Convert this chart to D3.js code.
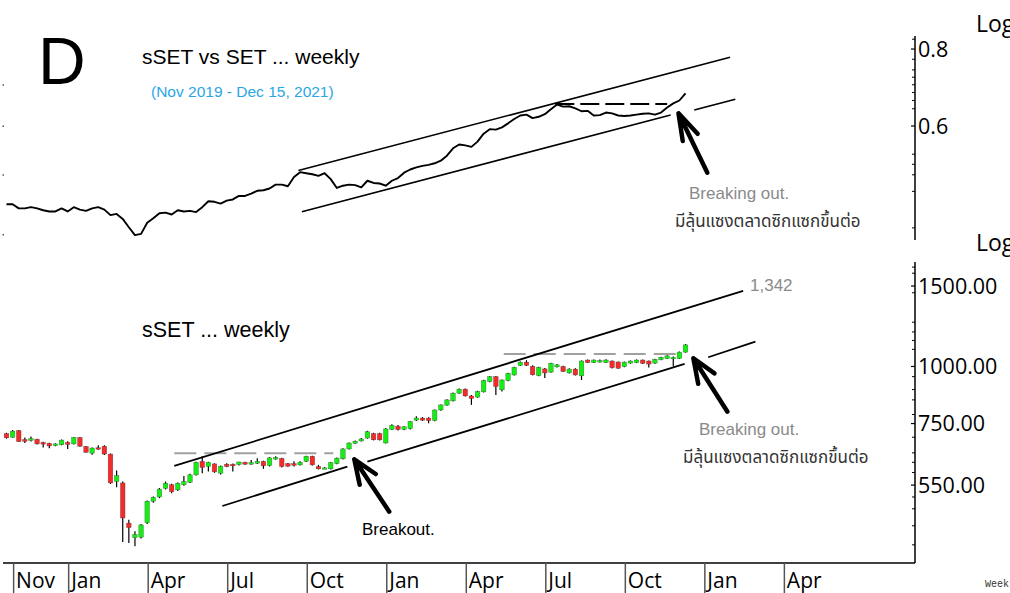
<!DOCTYPE html>
<html><head><meta charset="utf-8">
<script src="https://cdn.jsdelivr.net/npm/d3@7"></script>
<style>
html,body{margin:0;padding:0;background:#fff;overflow:hidden;}
svg{display:block;}
</style></head><body>
<svg id="chart" width="1010" height="593"></svg>
<script>
// ---------------- DATA ----------------
const firstWeek = "2019-10-28";   // first weekly bar
const lastWeek  = "2021-12-13";   // last weekly bar (Dec 15, 2021 week)

// sSET weekly OHLC
const sOpen  = [713,700,724,692,689,693,682,679,671,674,682,677,699,668,646,664,669,643,560,556,454,422,423,455,507,518,541,551,537,551,558,579,620,604,612,584,611,611,610,617,611,614,620,607,627,629,613,613,609,620,636,604,597,597,613,628,660,679,687,697,713,713,680,728,740,728,731,763,771,771,762,803,823,841,874,892,862,857,880,927,950,889,931,958,1005,1022,1001,955,988,972,998,1000,968,987,954,1033,1020,1026,1020,1028,1023,999,1017,1020,1033,1028,1017,1035,1041,1042,1041,1075];
const sHigh  = [716,726,726,699,703,695,684,681,679,692,686,701,701,670,665,672,672,645,592,560,462,436,452,509,519,542,560,554,557,576,582,619,636,619,614,607,614,613,619,619,624,630,622,633,636,631,615,620,620,638,638,609,602,618,632,662,682,689,697,723,716,716,733,747,745,740,760,778,775,774,805,826,848,877,895,895,866,885,935,953,953,937,969,999,1025,1032,1006,999,992,1019,1012,1004,991,991,1031,1036,1036,1036,1037,1031,1026,1025,1031,1036,1036,1031,1040,1050,1058,1052,1078,1120];
const sLow   = [695,698,683,680,685,675,665,662,669,672,660,675,667,647,641,657,640,553,544,413,411,404,420,452,503,515,538,528,534,548,556,577,584,589,585,580,602,589,607,609,609,612,597,604,625,601,603,604,607,618,607,595,596,595,611,626,658,677,685,695,689,689,678,726,724,725,728,760,760,751,759,800,820,838,871,860,824,854,877,924,866,881,928,955,1002,1002,956,952,944,969,995,972,965,955,934,1017,1017,1020,1017,990,988,996,1014,1017,1013,995,1014,1032,1038,1001,1038,1072];
const sClose = [698,722,685,686,695,677,676,670,677,690,675,699,669,649,663,659,643,556,577,466,444,429,450,507,517,539,555,532,555,560,579,617,601,617,588,605,604,606,618,611,616,620,606,631,632,604,605,608,617,636,609,597,600,616,630,660,680,686,694,720,691,691,730,743,728,738,758,771,763,761,803,824,845,874,892,862,851,882,932,950,904,934,966,996,1022,1006,959,996,968,1016,1008,975,987,958,1028,1020,1033,1030,1033,994,991,1022,1028,1033,1016,1012,1037,1047,1055,1047,1075,1115];

// sSET / SET relative ratio (weekly)
const ratio = [0.448,0.448,0.441,0.441,0.443,0.441,0.438,0.436,0.436,0.441,
0.436,0.443,0.439,0.437,0.441,0.443,0.439,0.430,0.432,0.424,
0.411,0.399,0.401,0.418,0.425,0.433,0.434,0.431,0.438,0.436,
0.437,0.435,0.443,0.453,0.452,0.449,0.454,0.456,0.462,0.462,
0.466,0.471,0.472,0.475,0.482,0.482,0.479,0.496,0.505,0.503,
0.501,0.498,0.503,0.492,0.476,0.480,0.482,0.481,0.477,0.489,
0.485,0.484,0.480,0.489,0.494,0.504,0.510,0.514,0.517,0.519,
0.522,0.527,0.537,0.552,0.560,0.558,0.555,0.566,0.583,0.593,
0.592,0.597,0.606,0.616,0.624,0.626,0.618,0.621,0.627,0.639,
0.650,0.645,0.646,0.641,0.634,0.635,0.624,0.625,0.631,0.629,
0.624,0.623,0.624,0.626,0.628,0.629,0.626,0.631,0.643,0.653,
0.660,0.678];

// x-axis (first weekly bar of each labelled month)
const monthDates  = ["2019-11-04","2020-01-06","2020-04-06","2020-07-06","2020-10-05","2021-01-04","2021-04-05","2021-07-05","2021-10-04","2022-01-03","2022-04-04"];
const monthLabels = ["Nov","Jan","Apr","Jul","Oct","Jan","Apr","Jul","Oct","Jan","Apr"];

// y-axis ticks
const topTickValues = [0.8, 0.6];
const topTickLabels = ["0.8", "0.6"];
const topMinorTicks = [0.83,0.77,0.74,0.72,0.70,0.68,0.66,0.64,0.54,0.52,0.50,0.47,0.41];
const topLeftTicks  = [0.7,0.6,0.5,0.4];
const botTickValues = [1500, 1000, 750, 550];
const botTickLabels = ["1500.00","1000.00","750.00","550.00"];
const botMinorTicks = [1650,1600,1450,1250,1190,1140,1090,950,890,845,785,700,647,617,586,518,488,448,407];

// trend lines / annotations (date, value)
const topUpper   = [["2020-09-26",0.508],["2022-02-02",0.7756]];
const topLower1  = [["2020-09-30",0.4356],["2021-11-26",0.6252]];
const topLower2  = [["2021-12-23",0.6369],["2022-02-08",0.6629]];
const topDash    = [["2021-07-17",0.6514],["2021-11-22",0.6514]];
const topArrow   = [["2021-12-05",0.6291],["2022-01-07",0.5039]];

const botUpper   = [["2020-05-07",605.7],["2022-02-17",1463]];
const botLower1  = [["2020-07-01",495.0],["2020-11-21",603.5]];
const botLower2  = [["2020-12-14",618.8],["2021-12-12",1012.6]];
const botLower3  = [["2022-01-08",1047.5],["2022-03-03",1133.1]];
const botDash1   = [["2020-05-07",645.6],["2020-11-05",645.6]];
const botDash2   = [["2021-05-19",1065],["2021-12-10",1065]];
const botArrow1  = [["2020-11-29",626.4],["2021-01-08",481.0]];
const botArrow2  = [["2021-12-22",1042.2],["2022-01-30",796.2]];

// ---------------- CHART ----------------
const parse = d3.timeParse("%Y-%m-%d");
const svg = d3.select("#chart");
const FONT = "'Liberation Sans', Arial, sans-serif";
const AXFONT = "'Open Sans', 'Noto Sans', sans-serif";
const THAI = "Tahoma, 'Noto Sans Thai', 'Noto Sans Thai UI', 'Loma', 'Garuda', 'Noto Sans', 'DejaVu Sans', sans-serif";

const x = d3.scaleTime().domain([parse(firstWeek), parse(lastWeek)]).range([6.5, 685.5]);
const yTop = d3.scaleLog().domain([0.8399, 0.39187]).range([36, 240]);
const yBot = d3.scaleLog().domain([1693, 371.4]).range([262, 563]);

const weeks = sOpen.map((_, i) => d3.timeDay.offset(parse(firstWeek), 7 * i));
const bars = weeks.map((d, i) => ({d, o: sOpen[i], h: sHigh[i], l: sLow[i], c: sClose[i]}));

// axes (right side)
const axisX = 915;
function rightAxis(yScale, y0, y1, majors, labels, minors, logLabelY) {
  const g = svg.append("g");
  g.append("line").attr("x1", axisX).attr("x2", axisX).attr("y1", y0).attr("y2", y1)
    .attr("stroke", "#000").attr("stroke-width", 1.5);
  g.selectAll("line.mi").data(minors).join("line").attr("class","mi")
    .attr("x1", axisX - 3).attr("x2", axisX).attr("y1", d => yScale(d)).attr("y2", d => yScale(d))
    .attr("stroke", "#000").attr("stroke-width", 1);
  g.selectAll("line.ma").data(majors).join("line").attr("class","ma")
    .attr("x1", axisX - 4).attr("x2", axisX).attr("y1", d => yScale(d)).attr("y2", d => yScale(d))
    .attr("stroke", "#000").attr("stroke-width", 1.2);
  g.selectAll("text.tl").data(majors).join("text").attr("class","tl")
    .attr("x", axisX + 3).attr("y", d => yScale(d)).attr("dy", "0.36em")
    .attr("font-family", AXFONT).attr("font-size", 21.5).attr("fill", "#000")
    .text((d, i) => labels[i]);
  g.append("text").attr("x", 976).attr("y", logLabelY)
    .attr("font-family", AXFONT).attr("font-size", 23).attr("fill", "#000").text("Log");
}
rightAxis(yTop, 36, 240, topTickValues, topTickLabels, topMinorTicks, 31.5);
rightAxis(yBot, 262, 563, botTickValues, botTickLabels, botMinorTicks, 251);

// tiny left ticks on top panel
svg.append("g").selectAll("rect").data(topLeftTicks).join("rect")
  .attr("x", 2.5).attr("y", d => yTop(d) - 0.5).attr("width", 1.5).attr("height", 1.5).attr("fill", "#555");

// x axis
svg.append("line").attr("x1", 3).attr("x2", axisX).attr("y1", 563).attr("y2", 563)
  .attr("stroke", "#000").attr("stroke-width", 1.5);
const xg = svg.append("g");
xg.selectAll("line").data(monthDates).join("line")
  .attr("x1", d => x(parse(d)) + 1).attr("x2", d => x(parse(d)) + 1)
  .attr("y1", 563).attr("y2", 593).attr("stroke", "#555").attr("stroke-width", 1.5);
xg.selectAll("text").data(monthDates).join("text")
  .attr("x", d => x(parse(d)) + 3.5).attr("y", 588)
  .attr("font-family", AXFONT).attr("font-size", 21).attr("fill", "#000")
  .text((d, i) => monthLabels[i]);

// helpers
const P = (pt, ys) => [x(parse(pt[0])), ys(pt[1])];
function seg(pts, ys, stroke, w, dash) {
  const p = pts.map(pt => P(pt, ys));
  const l = svg.append("line").attr("x1", p[0][0]).attr("y1", p[0][1]).attr("x2", p[1][0]).attr("y2", p[1][1])
    .attr("stroke", stroke).attr("stroke-width", w);
  if (dash) l.attr("stroke-dasharray", dash);
  return l;
}
function arrow(pts, ys, spread, len) {
  const tip = P(pts[0], ys), tail = P(pts[1], ys);
  const a = Math.atan2(tail[1] - tip[1], tail[0] - tip[0]);
  const w1 = [tip[0] + len * Math.cos(a - spread), tip[1] + len * Math.sin(a - spread)];
  const w2 = [tip[0] + len * Math.cos(a + spread), tip[1] + len * Math.sin(a + spread)];
  const path = d3.path();
  path.moveTo(tail[0], tail[1]); path.lineTo(tip[0], tip[1]);
  path.moveTo(w1[0], w1[1]); path.lineTo(tip[0], tip[1]); path.lineTo(w2[0], w2[1]);
  svg.append("path").attr("d", path.toString()).attr("fill", "none").attr("stroke", "#000")
    .attr("stroke-width", 4.5).attr("stroke-linecap", "round").attr("stroke-linejoin", "round");
}

// ---- TOP PANEL ----
seg(topUpper, yTop, "#000", 1.6);
seg(topLower1, yTop, "#000", 1.6);
seg(topLower2, yTop, "#000", 1.6);
seg(topDash, yTop, "#000", 2, "19,6");
svg.append("path").datum(ratio)
  .attr("d", d3.line().x((d, i) => x(weeks[i])).y(d => yTop(d)))
  .attr("fill", "none").attr("stroke", "#000").attr("stroke-width", 1.9).attr("stroke-linejoin", "round");
arrow(topArrow, yTop, 0.3, 28);

// ---- BOTTOM PANEL ----
seg(botDash1, yBot, "#a0a0a0", 2, "22,8");
seg(botDash2, yBot, "#a0a0a0", 2, "22,8");
seg(botUpper, yBot, "#000", 1.8);
seg(botLower1, yBot, "#000", 1.8);
seg(botLower2, yBot, "#000", 1.8);
seg(botLower3, yBot, "#000", 1.8);

const cg = svg.append("g");
cg.selectAll("line").data(bars).join("line")
  .attr("x1", d => x(d.d)).attr("x2", d => x(d.d))
  .attr("y1", d => yBot(d.h)).attr("y2", d => yBot(d.l))
  .attr("stroke", "#000").attr("stroke-width", 1.2);
cg.selectAll("rect").data(bars).join("rect")
  .attr("x", d => x(d.d) - 2.3).attr("width", 4.6)
  .attr("y", d => Math.min(yBot(d.o), yBot(d.c)))
  .attr("height", d => Math.max(1.5, Math.abs(yBot(d.o) - yBot(d.c))))
  .attr("fill", d => d.c >= d.o ? "#14ee14" : "#f52a2a")
  .attr("stroke", "rgba(40,40,40,0.55)").attr("stroke-width", 0.5);

arrow(botArrow1, yBot, 0.38, 26);
arrow(botArrow2, yBot, 0.38, 26);

// ---- TEXT ----
const T = (tx, ty, s, size, fill, fam) => svg.append("text").attr("x", tx).attr("y", ty)
  .attr("font-family", fam || FONT).attr("font-size", size).attr("fill", fill).text(s);
T(38, 84, "D", 66, "#000");
T(142, 64, "sSET vs SET ... weekly", 21, "#000");
T(151, 97, "(Nov 2019 - Dec 15, 2021)", 15.5, "#2aa6e4");
T(689, 199, "Breaking out.", 17, "#8a8a8a");
T(675, 227, "มีลุ้นแซงตลาดซิกแซกขึ้นต่อ", 17, "#333", THAI);
T(142, 337, "sSET ... weekly", 21.5, "#000");
T(750, 291, "1,342", 17, "#8a8a8a");
T(362, 535, "Breakout.", 17, "#000");
T(699, 435, "Breaking out.", 17, "#8a8a8a");
T(683, 463, "มีลุ้นแซงตลาดซิกแซกขึ้นต่อ", 17, "#333", THAI);
T(985, 587, "Weekly", 10, "#333", "'Liberation Mono', monospace");
</script>
</body></html>
